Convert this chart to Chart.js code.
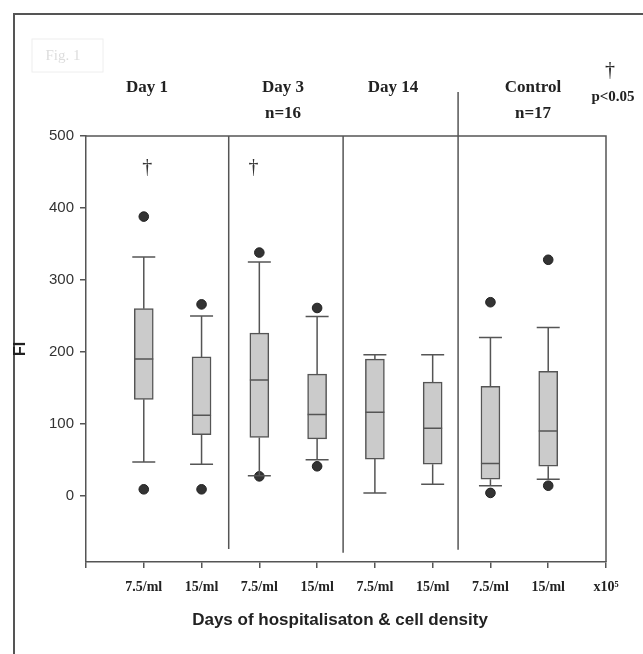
<!DOCTYPE html>
<html>
<head>
<meta charset="utf-8">
<script src="https://cdn.jsdelivr.net/npm/chart.js@4.4.1/dist/chart.umd.min.js"></script>
<style>
  html, body { margin: 0; padding: 0; background: #fff; }
  canvas { display: block; }
</style>
</head>
<body>
<canvas id="grafica" width="643" height="654"></canvas>
<script>
// positions of the boxes on the x axis (1..8), x axis runs 0..9
const posiciones = [1, 2, 3, 4, 5, 6, 7, 8];
const etiquetasX = ['', '7.5/ml', '15/ml', '7.5/ml', '15/ml', '7.5/ml', '15/ml', '7.5/ml', '15/ml', 'x10\u2075'];
const etiquetasY = [0, 100, 200, 300, 400, 500];
const grupos = ['Day 1', 'Day 3', 'Day 14', 'Control'];
const gruposN = ['', 'n=16', '', 'n=17'];

// box plot values (FI)
const bigoteBajo = [47, 44, 28, 50, 4, 16, 14, 23];
const q1 = [134, 85, 81, 79, 51, 44, 23, 41];
const mediana = [190, 112, 161, 113, 116, 94, 45, 90];
const q3 = [260, 193, 226, 169, 190, 158, 152, 173];
const bigoteAlto = [332, 250, 325, 249, 196, 196, 220, 234];
const atipicoAlto = [388, 266, 338, 261, null, null, 269, 328];
const atipicoBajo = [9, 9, 27, 41, null, null, 4, 14];

// significance markers
const dagaX = [1.06, 2.9];
const dagaY = [456, 456];

// group dividers
const divisorX = [2.47, 4.45, 6.44];
const divisorArriba = [500, 500, 561];
const divisorAbajo = [-74, -79, -75];

const colorLinea = '#555';

const puntosAtipicos = [];
posiciones.forEach((x, i) => {
    if (atipicoAlto[i] !== null) puntosAtipicos.push({ x: x, y: atipicoAlto[i] });
    if (atipicoBajo[i] !== null) puntosAtipicos.push({ x: x, y: atipicoBajo[i] });
});

const dibujarExtras = {
    id: 'dibujarExtras',
    beforeDraw(chart) {
        const ctx = chart.ctx;
        ctx.save();
        ctx.fillStyle = '#fff';
        ctx.fillRect(0, 0, chart.width, chart.height);
        // outer frame
        ctx.strokeStyle = '#555';
        ctx.lineWidth = 2;
        ctx.strokeRect(14, 14, chart.width + 20, chart.height + 20);
        // faint "Fig. 1" box
        ctx.strokeStyle = '#eee';
        ctx.lineWidth = 1;
        ctx.strokeRect(32, 39, 71, 33);
        ctx.fillStyle = '#ddd';
        ctx.font = '15px "Liberation Serif"';
        ctx.textAlign = 'center';
        ctx.textBaseline = 'middle';
        ctx.fillText('Fig. 1', 63, 56);
        ctx.restore();
    },
    afterDatasetsDraw(chart) {
        const ctx = chart.ctx;
        const xs = chart.scales.x;
        const ys = chart.scales.y;
        const area = chart.chartArea;
        ctx.save();
        ctx.strokeStyle = colorLinea;
        ctx.lineWidth = 1.5;

        // top and right border of plot
        ctx.beginPath();
        ctx.moveTo(area.left, area.top);
        ctx.lineTo(area.right, area.top);
        ctx.lineTo(area.right, area.bottom);
        ctx.stroke();

        // dividers
        divisorX.forEach((d, i) => {
            const px = xs.getPixelForValue(d);
            ctx.beginPath();
            ctx.moveTo(px, ys.getPixelForValue(divisorArriba[i]));
            ctx.lineTo(px, ys.getPixelForValue(divisorAbajo[i]));
            ctx.stroke();
        });

        // whiskers, caps and medians
        const medioCaja = 9.5;
        const medioTope = 11.5;
        posiciones.forEach((x, i) => {
            const px = xs.getPixelForValue(x);
            const yq1 = ys.getPixelForValue(q1[i]);
            const yq3 = ys.getPixelForValue(q3[i]);
            const yLo = ys.getPixelForValue(bigoteBajo[i]);
            const yHi = ys.getPixelForValue(bigoteAlto[i]);
            const yMed = ys.getPixelForValue(mediana[i]);
            ctx.beginPath();
            ctx.moveTo(px, yq3); ctx.lineTo(px, yHi);
            ctx.moveTo(px - medioTope, yHi); ctx.lineTo(px + medioTope, yHi);
            ctx.moveTo(px, yq1); ctx.lineTo(px, yLo);
            ctx.moveTo(px - medioTope, yLo); ctx.lineTo(px + medioTope, yLo);
            ctx.moveTo(px - medioCaja, yMed); ctx.lineTo(px + medioCaja, yMed);
            ctx.stroke();
        });

        // daggers
        ctx.fillStyle = '#333';
        ctx.font = '20px "Liberation Serif"';
        ctx.textAlign = 'center';
        ctx.textBaseline = 'middle';
        dagaX.forEach((d, i) => {
            ctx.fillText('\u2020', xs.getPixelForValue(d), ys.getPixelForValue(dagaY[i]));
        });

        // group headers
        const cabX = [147, 283, 393, 533];
        ctx.fillStyle = '#222';
        ctx.font = 'bold 17px "Liberation Serif"';
        grupos.forEach((g, i) => {
            ctx.fillText(g, cabX[i], 88);
            if (gruposN[i]) ctx.fillText(gruposN[i], cabX[i], 114);
        });
        ctx.font = '20px "Liberation Serif"';
        ctx.fillText('\u2020', 610, 71);
        ctx.font = 'bold 15px "Liberation Serif"';
        ctx.fillText('p<0.05', 613, 97);

        // x axis title
        ctx.fillStyle = '#222';
        ctx.font = 'bold 17px "Liberation Sans"';
        ctx.fillText('Days of hospitalisaton & cell density', 340, 620);
        ctx.restore();
    }
};

const ctx = document.getElementById('grafica').getContext('2d');

const miGrafica = new Chart(ctx, {
    type: 'bar',
    data: {
        datasets: [{
            type: 'bar',
            label: 'IQR',
            data: posiciones.map((x, i) => ({ x: x, y: [q1[i], q3[i]] })),
            backgroundColor: '#cbcbcb',
            borderColor: colorLinea,
            borderWidth: 1.5,
            borderSkipped: false,
            barThickness: 19
        }, {
            type: 'scatter',
            label: 'Outliers',
            data: puntosAtipicos,
            backgroundColor: '#333',
            borderColor: '#222',
            borderWidth: 1,
            pointRadius: 4.8
        }]
    },
    options: {
        responsive: false,
        devicePixelRatio: 1,
        animation: false,
        layout: {
            padding: { top: 136, right: 37, left: 0, bottom: 0 }
        },
        plugins: {
            legend: { display: false },
            tooltip: { enabled: false }
        },
        scales: {
            x: {
                type: 'linear',
                offset: false,
                min: 0,
                max: 9,
                afterBuildTicks: s => {
                    s.ticks = etiquetasX.map((t, i) => ({ value: i }));
                },
                afterFit: s => { s.height = 92; },
                grid: {
                    offset: false,
                    drawOnChartArea: false,
                    color: colorLinea,
                    tickLength: 6,
                    lineWidth: 1.5
                },
                border: { color: colorLinea, width: 1.5 },
                ticks: {
                    padding: 11,
                    maxRotation: 0,
                    autoSkip: false,
                    color: '#222',
                    font: { family: 'Liberation Serif', size: 14, weight: 'bold' },
                    callback: (v) => etiquetasX[v]
                }
            },
            y: {
                type: 'linear',
                min: -92,
                max: 500,
                afterBuildTicks: s => {
                    s.ticks = etiquetasY.map(v => ({ value: v }));
                },
                afterFit: s => { s.width = 86; },
                grid: {
                    drawOnChartArea: false,
                    color: colorLinea,
                    tickLength: 6,
                    lineWidth: 1.5
                },
                border: { color: colorLinea, width: 1.5 },
                ticks: {
                    padding: 6,
                    color: '#333',
                    font: { family: 'Liberation Sans', size: 15 }
                },
                title: {
                    display: true,
                    text: 'FI',
                    color: '#222',
                    padding: { top: 11 },
                    font: { family: 'Liberation Sans', size: 16, weight: 'bold' }
                }
            }
        }
    },
    plugins: [dibujarExtras]
});
</script>
</body>
</html>
